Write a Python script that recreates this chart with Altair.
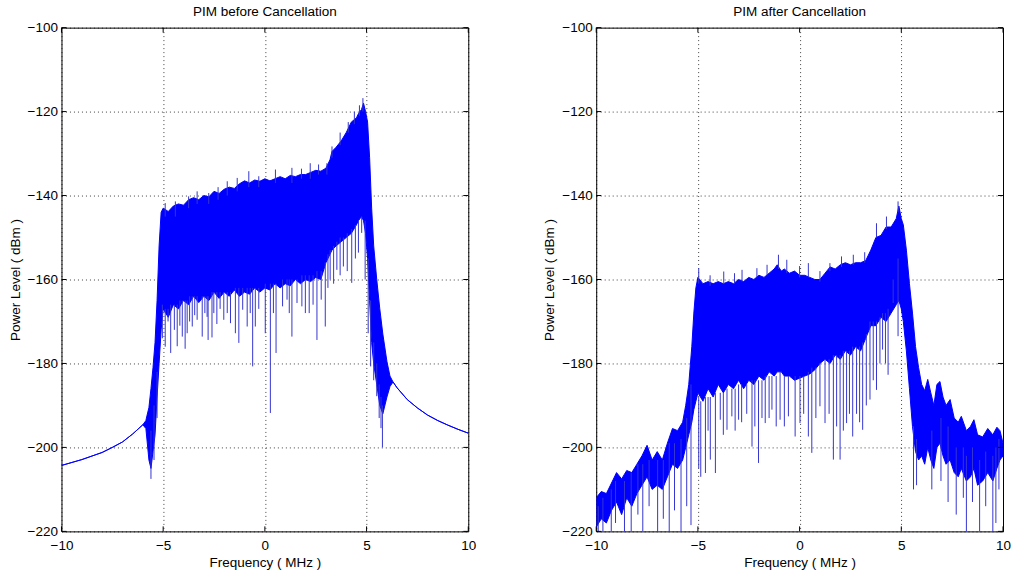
import altair as alt
import pandas as pd

# ---------------- Left panel: PIM before Cancellation ----------------
before_f = [-10, -9, -8, -7.5, -7, -6.5, -6, -5.85, -5.8, -5.7, -5.6, -5.5, -5.4, -5.3, -5.2, -5.1,
            -5.0, -4.75, -4.5, -4.25, -4.0, -3.75, -3.5, -3.25, -3.0, -2.75, -2.5, -2.25, -2.0,
            -1.75, -1.5, -1.25, -1.0, -0.75, -0.5, -0.25, 0.0, 0.25, 0.5, 0.75, 1.0, 1.25, 1.5,
            1.75, 2.0, 2.25, 2.5, 2.75, 3.0, 3.2, 3.3, 3.5, 3.75, 4.0, 4.25, 4.5, 4.6, 4.75, 4.85,
            4.95, 5.05, 5.15, 5.25, 5.35, 5.5, 5.65, 5.8, 6.0, 6.15, 6.3, 6.5, 7.0, 7.5, 8.0, 8.5,
            9.0, 9.5, 10.0]
before_hi = [-204.3, -202.9, -201.2, -200.0, -198.7, -196.8, -194.6, -193.6, -192.5, -190.5, -186.0,
             -181.0, -175.0, -165.0, -152.0, -144.0, -143.0, -143.8, -142.5, -142.0, -142.3, -141.0,
             -140.5, -141.0, -140.0, -140.3, -139.0, -139.5, -138.5, -138.0, -138.3, -137.2, -136.5,
             -137.0, -136.3, -136.6, -136.0, -136.5, -136.0, -135.5, -136.0, -135.2, -135.5, -135.0,
             -135.0, -134.5, -134.0, -134.2, -133.5, -131.5, -129.5, -128.5, -127.0, -125.0, -122.5,
             -121.5, -120.5, -119.5, -118.0, -120.0, -122.5, -131.0, -143.0, -152.0, -160.0, -167.0,
             -173.0, -179.5, -183.0, -184.4, -185.8, -188.6, -190.6, -192.3, -193.6, -194.7, -195.7,
             -196.6]
before_lo = [-204.3, -202.9, -201.2, -200.0, -198.7, -196.8, -194.6, -195.5, -198.0, -203.0, -205.0,
             -201.0, -197.0, -188.0, -180.0, -172.0, -167.0, -169.0, -166.0, -167.0, -165.0, -166.0,
             -164.0, -165.5, -164.0, -165.0, -163.0, -164.5, -163.0, -164.0, -162.5, -164.0, -163.0,
             -163.5, -162.0, -163.0, -162.0, -162.5, -161.0, -162.0, -161.0, -161.5, -160.0, -161.0,
             -160.0, -160.5, -159.5, -160.0, -156.0, -154.0, -153.0, -152.0, -151.0, -150.0, -149.0,
             -147.0, -146.0, -145.0, -146.0, -149.0, -155.0, -165.0, -175.0, -180.0, -185.0, -190.0,
             -192.0, -188.0, -185.5, -184.4, -185.8, -188.6, -190.6, -192.3, -193.6, -194.7, -195.7,
             -196.6]

before_spike_f = [-5.6, -5.45, -5.3, -5.04, -4.9, -4.76, -4.63, -4.45, -4.31, -4.18, -4.06, -3.92,
                  -3.82, -3.7, -3.57, -3.45, -3.33, -3.08, -2.95, -2.84, -2.79, -2.6, -2.51, -2.36,
                  -2.2, -2.02, -1.85, -1.69, -1.45, -1.28, -1.09, -0.87, -0.72, -0.6, -0.47, -0.3,
                  0.02, 0.27, 0.42, 0.55, 0.87, 1.09, 1.2, 1.33, 1.58, 1.82, 1.99, 2.18, 2.37, 2.56,
                  2.77, 2.97, 3.1, 3.21, 3.38, 3.54, 3.7, 3.86, 4.05, 4.27, 4.45, 4.6, 4.76, 4.93,
                  5.08, 5.2, 5.35, 5.5, 5.62, 5.71, 5.78]
before_spike_lo = [-207.5, -203.0, -193.0, -174.0, -176.0, -170.0, -177.5, -172.0, -175.9, -171.0,
                   -173.6, -176.5, -172.8, -170.0, -171.2, -168.5, -169.6, -173.6, -168.0, -168.9,
                   -174.4, -173.8, -168.0, -170.6, -167.0, -169.6, -168.0, -170.4, -172.8, -175.1,
                   -167.2, -171.2, -168.0, -180.7, -171.2, -167.0, -172.8, -191.8, -168.0, -177.5,
                   -166.4, -164.8, -168.0, -173.6, -165.6, -166.4, -168.0, -168.0, -166.0, -174.4,
                   -164.8, -171.2, -162.0, -160.0, -161.0, -157.7, -159.0, -156.9, -158.0, -160.8,
                   -155.0, -153.6, -148.9, -160.0, -172.8, -180.7, -184.0, -187.8, -193.0, -195.4,
                   -200.0]
before_spike_hi = [-196.0, -190.0, -182.0, -166.0, -167.0, -167.0, -166.0, -166.0, -166.0, -165.0,
                   -165.0, -165.0, -165.0, -164.0, -164.0, -164.0, -164.0, -164.0, -164.0, -164.0,
                   -164.0, -163.0, -163.0, -163.0, -163.0, -163.0, -163.0, -163.0, -162.0, -162.0,
                   -162.0, -162.0, -162.0, -162.0, -162.0, -162.0, -161.0, -161.0, -161.0, -161.0,
                   -160.0, -160.0, -160.0, -160.0, -160.0, -159.0, -159.0, -159.0, -159.0, -158.0,
                   -158.0, -156.0, -154.0, -153.0, -152.0, -151.0, -150.0, -150.0, -149.0, -148.0,
                   -147.0, -146.0, -145.0, -146.0, -155.0, -165.0, -175.0, -180.0, -185.0, -188.0,
                   -190.0]

before_peak_f = [-4.9, -4.4, -3.75, -3.33, -2.76, -2.3, -1.85, -1.36, -0.79, -0.3, 0.52, 1.33, 1.8,
                 2.23, 2.64, 3.05, 3.3, 3.7, 4.1, 4.4, 4.65, 4.82]
before_peak_hi = [-141.8, -141.4, -140.2, -139.0, -139.4, -138.0, -136.6, -135.8, -134.2, -135.4,
                  -133.8, -133.4, -133.6, -132.3, -132.6, -132.3, -128.3, -125.0, -122.5, -120.0,
                  -118.5, -116.8]
before_peak_lo = [-145.0, -145.0, -143.0, -142.0, -142.0, -141.0, -140.0, -139.0, -138.0, -138.0,
                  -137.0, -137.0, -136.0, -136.0, -135.0, -135.0, -131.0, -128.0, -125.0, -123.0,
                  -121.0, -120.0]

# ---------------- Right panel: PIM after Cancellation ----------------
after_f = [-10, -9.75, -9.5, -9.25, -9.0, -8.75, -8.5, -8.25, -8.0, -7.75, -7.5, -7.25, -7.0, -6.75,
           -6.5, -6.25, -6.0, -5.75, -5.6, -5.45, -5.3, -5.2, -5.1, -5.0, -4.75, -4.5, -4.25, -4.0,
           -3.75, -3.5, -3.25, -3.0, -2.75, -2.5, -2.25, -2.0, -1.75, -1.5, -1.25, -1.1, -0.9, -0.75,
           -0.5, -0.25, 0.0, 0.25, 0.5, 0.75, 1.0, 1.25, 1.5, 1.75, 2.0, 2.25, 2.5, 2.75, 3.0, 3.25,
           3.5, 3.75, 4.0, 4.25, 4.5, 4.75, 4.88, 5.0, 5.1, 5.25, 5.4, 5.55, 5.7, 5.85, 6.0, 6.15,
           6.3, 6.45, 6.6, 6.75, 6.9, 7.05, 7.2, 7.4, 7.6, 7.8, 7.95, 8.2, 8.4, 8.57, 8.75, 9.0,
           9.25, 9.5, 9.7, 9.85, 10.0]
after_hi = [-212.0, -210.5, -211.0, -208.5, -206.0, -207.5, -205.5, -206.0, -204.0, -202.0, -199.5,
            -203.0, -201.0, -203.0, -199.0, -195.5, -196.0, -194.0, -190.0, -185.0, -176.0, -168.0,
            -162.0, -159.5, -161.0, -160.5, -161.0, -160.5, -161.0, -160.5, -161.0, -160.0, -160.5,
            -159.5, -160.0, -159.0, -159.5, -158.5, -157.5, -156.5, -158.0, -157.5, -158.5, -158.0,
            -159.0, -159.0, -159.5, -160.0, -160.0, -158.5, -157.0, -157.5, -156.5, -156.0, -156.5,
            -156.0, -156.0, -155.5, -153.0, -150.0, -149.5, -147.5, -147.5, -145.5, -142.5, -145.5,
            -147.0, -153.0, -161.0, -168.0, -176.0, -181.0, -185.0, -186.5, -183.8, -187.0, -190.0,
            -185.0, -184.3, -188.0, -190.0, -188.6, -193.0, -194.0, -192.6, -196.0, -195.0, -193.4,
            -197.0, -197.5, -195.5, -197.0, -195.2, -196.0, -199.0]
after_lo = [-219.0, -217.0, -218.0, -215.0, -213.0, -216.0, -212.0, -214.0, -211.0, -209.0, -207.0,
            -210.0, -209.0, -210.0, -207.0, -204.0, -205.0, -203.0, -200.0, -197.0, -194.0, -191.0,
            -189.0, -187.0, -189.0, -186.0, -188.0, -185.0, -187.0, -185.0, -186.0, -184.0, -186.0,
            -184.0, -185.0, -183.0, -184.0, -182.0, -183.0, -182.0, -182.0, -183.0, -183.0, -184.0,
            -183.5, -183.0, -182.5, -181.5, -180.0, -179.0, -180.0, -178.0, -179.0, -177.0, -178.0,
            -176.0, -177.0, -174.0, -171.0, -171.0, -169.0, -170.0, -168.0, -166.0, -165.0, -167.0,
            -170.0, -177.0, -186.0, -195.0, -201.0, -203.0, -202.0, -204.0, -200.0, -203.0, -205.0,
            -200.0, -199.0, -202.0, -204.0, -203.0, -206.0, -207.0, -205.0, -208.0, -207.0, -205.0,
            -209.0, -208.0, -206.0, -208.0, -205.0, -203.0, -202.0]

after_spike_f = [-9.9, -9.67, -9.26, -9.05, -8.61, -8.28, -7.95, -7.71, -7.4, -6.98, -6.7, -6.41,
                 -6.15, -5.83, -5.55, -5.34, -4.96, -4.86, -4.63, -4.5, -4.39, -4.14, -3.9, -3.75,
                 -3.57, -3.33, -3.17, -3.0, -2.85, -2.6, -2.34, -2.2, -2.02, -1.85, -1.69, -1.5,
                 -1.36, -1.15, -0.96, -0.75, -0.55, -0.22, 0.02, 0.2, 0.43, 0.6, 0.8, 1.0, 1.25, 1.45,
                 1.66, 1.82, 1.99, 2.15, 2.31, 2.45, 2.61, 2.8, 2.95, 3.1, 3.28, 3.46, 3.62, 3.78,
                 3.95, 4.08, 4.22, 4.35, 4.6, 4.84, 5.6, 5.75, 6.5, 6.95, 7.3, 7.7, 8.05, 8.2, 8.5,
                 8.85, 9.15, 9.5, 9.65, 9.8]
after_spike_lo = [-220.0, -220.0, -220.0, -218.0, -220.0, -220.0, -216.0, -220.0, -214.0, -220.0,
                  -217.0, -220.0, -215.0, -220.0, -214.0, -218.5, -205.0, -207.0, -206.1, -196.0,
                  -202.9, -206.1, -193.4, -197.0, -195.8, -192.6, -196.0, -193.4, -194.0, -192.0,
                  -199.8, -195.0, -203.7, -193.0, -194.2, -193.0, -191.0, -195.0, -193.4, -195.0,
                  -192.6, -197.4, -194.2, -192.0, -197.4, -201.3, -193.0, -190.2, -194.2, -192.0,
                  -202.9, -195.0, -202.9, -196.0, -194.2, -192.0, -197.4, -192.0, -194.0, -195.8,
                  -190.0, -188.6, -184.0, -186.3, -180.0, -176.7, -180.0, -182.7, -165.6, -173.5,
                  -210.0, -209.0, -210.0, -208.0, -213.0, -216.0, -212.0, -220.0, -213.0, -220.0,
                  -214.0, -220.0, -218.0, -210.0]
after_spike_hi = [-214.0, -212.0, -210.0, -208.0, -208.0, -206.0, -204.0, -204.0, -203.0, -203.0,
                  -203.0, -199.0, -199.0, -198.0, -193.0, -185.0, -188.0, -189.0, -188.0, -188.0,
                  -188.0, -187.0, -187.0, -187.0, -186.0, -186.0, -186.0, -185.0, -185.0, -185.0,
                  -184.0, -184.0, -184.0, -184.0, -183.0, -183.0, -183.0, -183.0, -182.0, -183.0,
                  -183.0, -183.0, -183.0, -183.0, -182.0, -181.0, -181.0, -180.0, -179.0, -179.0,
                  -178.0, -178.0, -178.0, -177.0, -177.0, -177.0, -176.0, -176.0, -176.0, -175.0,
                  -173.0, -170.0, -170.0, -170.0, -169.0, -168.0, -168.0, -167.0, -160.0, -155.0,
                  -195.0, -198.0, -196.0, -193.0, -195.0, -200.0, -200.0, -202.0, -200.0, -203.0,
                  -201.0, -202.0, -200.0, -198.0]

after_peak_f = [-4.96, -4.4, -3.73, -3.2, -2.83, -2.1, -1.6, -1.04, -0.63, 0.0, 0.43, 1.0, 1.49,
                2.06, 2.64, 3.2, 3.78, 4.27, 4.84]
after_peak_hi = [-157.3, -159.0, -158.1, -158.5, -157.7, -157.3, -156.5, -154.1, -155.3, -156.8,
                 -156.1, -158.0, -156.1, -154.5, -154.1, -153.5, -146.6, -145.0, -141.4]
after_peak_lo = [-161.0, -161.5, -161.0, -161.0, -160.5, -159.5, -159.0, -157.5, -158.5, -159.5,
                 -159.5, -160.5, -158.0, -157.0, -156.5, -156.0, -150.0, -148.0, -144.0]

x_ticks = [-10, -5, 0, 5, 10]
y_ticks = [-220, -200, -180, -160, -140, -120, -100]

W, H = 407, 504
BLUE = "#0000ff"
SPIKE = "#3535d0"
FONT = "Liberation Sans"

xscale = alt.Scale(domain=[-10, 10], nice=False, zero=False)
yscale = alt.Scale(domain=[-220, -100], nice=False, zero=False)


def panel(title, f, hi, lo, sf, slo, shi, pf, phi, plo):
    band = pd.DataFrame({"f": f, "hi": hi, "lo": lo})
    spikes = pd.DataFrame({"f": sf + pf, "lo": slo + plo, "hi": shi + phi})
    xt = pd.DataFrame({"t": x_ticks})
    yt = pd.DataFrame({"t": y_ticks})

    xax = alt.Axis(values=x_ticks, format="d", title="Frequency ( MHz )", labelFlush=False,
                   labelOverlap=False)
    yax = alt.Axis(values=y_ticks, format="d", title="Power Level ( dBm )", labelOverlap=False)

    base = alt.Chart(band)
    area = base.mark_area(color=BLUE, opacity=1, clip=True).encode(
        x=alt.X("f:Q", scale=xscale, axis=xax),
        y=alt.Y("hi:Q", scale=yscale, axis=yax),
        y2="lo:Q",
    )
    up = base.mark_line(color=BLUE, strokeWidth=1, clip=True).encode(
        x=alt.X("f:Q", scale=xscale), y=alt.Y("hi:Q", scale=yscale)
    )
    dn = base.mark_line(color=BLUE, strokeWidth=1, clip=True).encode(
        x=alt.X("f:Q", scale=xscale), y=alt.Y("lo:Q", scale=yscale)
    )
    sp = alt.Chart(spikes).mark_rule(color=SPIKE, strokeWidth=1, clip=True).encode(
        x=alt.X("f:Q", scale=xscale), y=alt.Y("lo:Q", scale=yscale), y2="hi:Q"
    )
    tick_l = alt.Chart(yt).mark_rule(color="#000", strokeWidth=1).encode(
        y=alt.Y("t:Q", scale=yscale), x=alt.value(0), x2=alt.value(5)
    )
    tick_r = alt.Chart(yt).mark_rule(color="#000", strokeWidth=1).encode(
        y=alt.Y("t:Q", scale=yscale), x=alt.value(W - 5), x2=alt.value(W)
    )
    tick_b = alt.Chart(xt).mark_rule(color="#000", strokeWidth=1).encode(
        x=alt.X("t:Q", scale=xscale), y=alt.value(H - 5), y2=alt.value(H)
    )
    tick_t = alt.Chart(xt).mark_rule(color="#000", strokeWidth=1).encode(
        x=alt.X("t:Q", scale=xscale), y=alt.value(0), y2=alt.value(5)
    )
    return alt.layer(area, up, dn, sp, tick_l, tick_r, tick_b, tick_t).properties(
        width=W,
        height=H,
        title=alt.TitleParams(title, fontSize=13.5, fontWeight="normal", font=FONT,
                              color="#000", offset=2, anchor="middle"),
    )


left = panel("PIM before Cancellation", before_f, before_hi, before_lo,
             before_spike_f, before_spike_lo, before_spike_hi,
             before_peak_f, before_peak_hi, before_peak_lo)
right = panel("PIM after Cancellation", after_f, after_hi, after_lo,
              after_spike_f, after_spike_lo, after_spike_hi,
              after_peak_f, after_peak_hi, after_peak_lo)

chart = alt.hconcat(left, right, spacing=128, bounds="flush").properties(
    padding={"left": 7.5, "top": 4.5, "right": 0, "bottom": 0},
    background="white",
).configure_view(stroke="#000", strokeWidth=1).configure_axis(
    labelFont=FONT, titleFont=FONT, labelFontSize=13.5, titleFontSize=13.5,
    labelColor="#000", titleColor="#000", titleFontWeight="normal",
    grid=True, gridColor="#000", gridDash=[1, 3], gridOpacity=0.75, gridWidth=1,
    domain=False, ticks=False,
).configure_axisX(labelPadding=7, titlePadding=4).configure_axisY(labelPadding=4, titlePadding=5)

chart.save("out.html", embed_options={"renderer": "svg", "actions": False})
